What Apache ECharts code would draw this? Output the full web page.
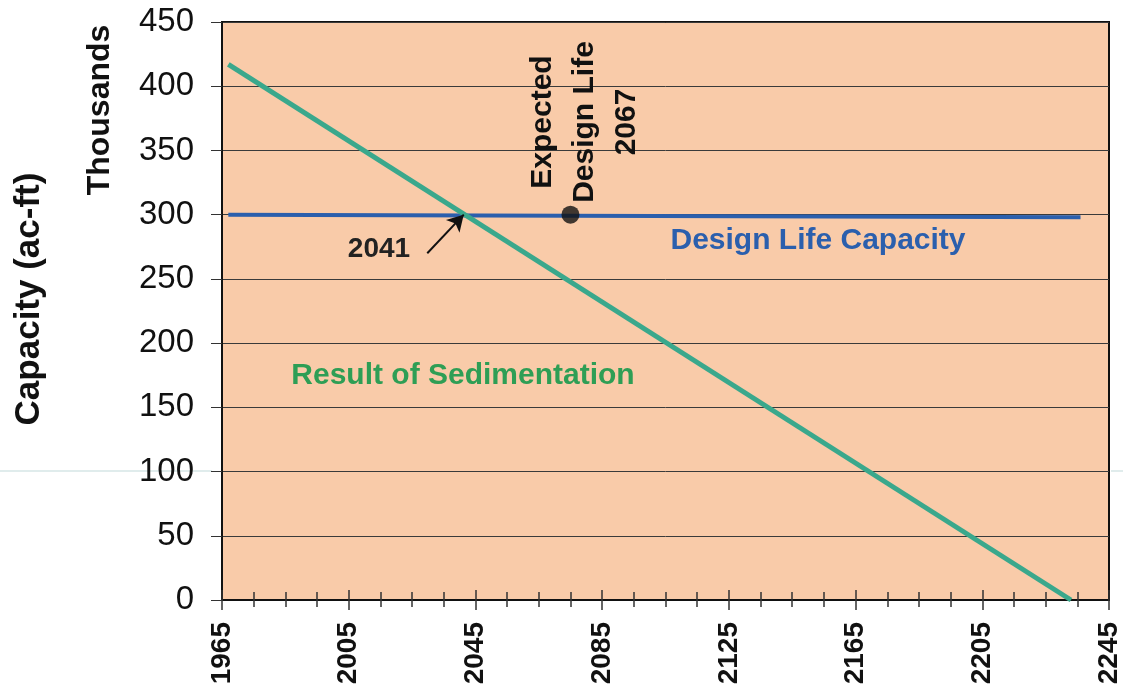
<!DOCTYPE html>
<html>
<head>
<meta charset="utf-8">
<script src="https://cdn.jsdelivr.net/npm/echarts@6/dist/echarts.min.js"></script>
<style>
html,body{margin:0;padding:0;background:#fff;}
#c{width:1123px;height:700px;}
</style>
</head>
<body>
<div id="c"></div>
<script>
// Data
const sedimentYears = [1967, 2233];
const sedimentValues = [417, 0];           // thousands ac-ft
const designYears = [1967, 2236];
const designValues = [300, 298];
const expectedPoint = [2075, 300];
const arrowTail = [2029.8, 270];
const arrowTip = [2041.3, 300];
const yTicks = [0, 50, 100, 150, 200, 250, 300, 350, 400, 450];
const xMin = 1965, xMax = 2245;

const F = '"Liberation Sans", Arial, Helvetica, sans-serif';
const chart = echarts.init(document.getElementById('c'));

const sedData = sedimentYears.map((y, i) => [y, sedimentValues[i]]);
const desData = designYears.map((y, i) => [y, designValues[i]]);

chart.setOption({
  animation: false,
  backgroundColor: '#fff',
  grid: {
    left: 222, top: 22, right: 14, bottom: 100,
    show: true, backgroundColor: '#F9CBA9', borderColor: '#111', borderWidth: 2
  },
  xAxis: [{
    type: 'value', min: xMin, max: xMax, interval: 40,
    axisLine: { show: true, lineStyle: { color: '#111', width: 2 } },
    axisTick: { show: true, length: 10, lineStyle: { color: '#333', width: 1.5 } },
    minorTick: { show: true, splitNumber: 4, length: 7, lineStyle: { color: '#333', width: 1.5 } },
    splitLine: { show: false },
    axisLabel: {
      rotate: 90, margin: 22, fontFamily: F, fontWeight: 'bold', fontSize: 28, color: '#111',
      formatter: v => String(v)
    }
  }, {
    type: 'value', min: xMin, max: xMax, interval: 40, position: 'bottom', gridIndex: 0,
    axisLine: { show: false },
    axisTick: { show: true, inside: true, length: 10, lineStyle: { color: '#333', width: 1.5 } },
    minorTick: { show: true, splitNumber: 4, length: 8, lineStyle: { color: '#333', width: 1.5 } },
    splitLine: { show: false },
    axisLabel: { show: false }
  }],
  yAxis: {
    type: 'value', min: 0, max: 450, interval: 50,
    axisLine: { show: true, lineStyle: { color: '#111', width: 2 } },
    axisTick: { show: true, length: 11, lineStyle: { color: '#333', width: 1 } },
    splitLine: { show: true, lineStyle: { color: '#3a3a3a', width: 1 } },
    axisLabel: { margin: 28, fontFamily: F, fontSize: 33, color: '#111' }
  },
  graphic: [
    { type: 'line', z: 0, shape: { x1: 0, y1: 471, x2: 212, y2: 471 }, style: { stroke: '#d6e6e6', lineWidth: 1.5 } },
    { type: 'line', z: 0, shape: { x1: 1111, y1: 471, x2: 1123, y2: 471 }, style: { stroke: '#d6e6e6', lineWidth: 1.5 } },
    { type: 'text', x: 29, y: 299, rotation: Math.PI / 2,
      style: { text: 'Capacity (ac-ft)', font: 'bold 35px ' + F, fill: '#111', textAlign: 'center', textVerticalAlign: 'middle' } },
    { type: 'text', x: 100, y: 110, rotation: Math.PI / 2,
      style: { text: 'Thousands', font: 'bold 32px ' + F, fill: '#111', textAlign: 'center', textVerticalAlign: 'middle' } },
    { type: 'text', x: 585, y: 122, rotation: Math.PI / 2, z: 10,
      style: { text: 'Expected\nDesign Life\n2067', font: 'bold 30px ' + F, fill: '#111', textAlign: 'center', textVerticalAlign: 'middle', lineHeight: 42 } },
    { type: 'text', x: 379, y: 249, z: 10,
      style: { text: '2041', font: 'bold 28px ' + F, fill: '#222', textAlign: 'center', textVerticalAlign: 'middle' } },
    { type: 'text', x: 818, y: 241, z: 10,
      style: { text: 'Design Life Capacity', font: 'bold 30px ' + F, fill: '#2B5FAD', textAlign: 'center', textVerticalAlign: 'middle' } },
    { type: 'text', x: 463, y: 376, z: 10,
      style: { text: 'Result of Sedimentation', font: 'bold 30px ' + F, fill: '#2E9E55', textAlign: 'center', textVerticalAlign: 'middle' } }
  ],
  series: [
    {
      name: 'Design Life Capacity', type: 'line', data: desData, symbol: 'none',
      lineStyle: { color: '#2B5FAD', width: 4 }, z: 3
    },
    {
      name: 'Result of Sedimentation', type: 'line', data: sedData, symbol: 'none',
      lineStyle: { color: '#3AA88C', width: 5 }, z: 4,
      markLine: {
        silent: true, symbol: ['none', 'arrow'], symbolSize: [14, 16],
        label: { show: false },
        lineStyle: { color: '#111', width: 2, type: 'solid' },
        data: [[{ coord: arrowTail }, { coord: arrowTip }]]
      }
    },
    {
      name: 'Expected Design Life', type: 'scatter', data: [expectedPoint],
      symbol: 'circle', symbolSize: 18, itemStyle: { color: '#111' }, z: 6
    }
  ]
});
</script>
</body>
</html>
